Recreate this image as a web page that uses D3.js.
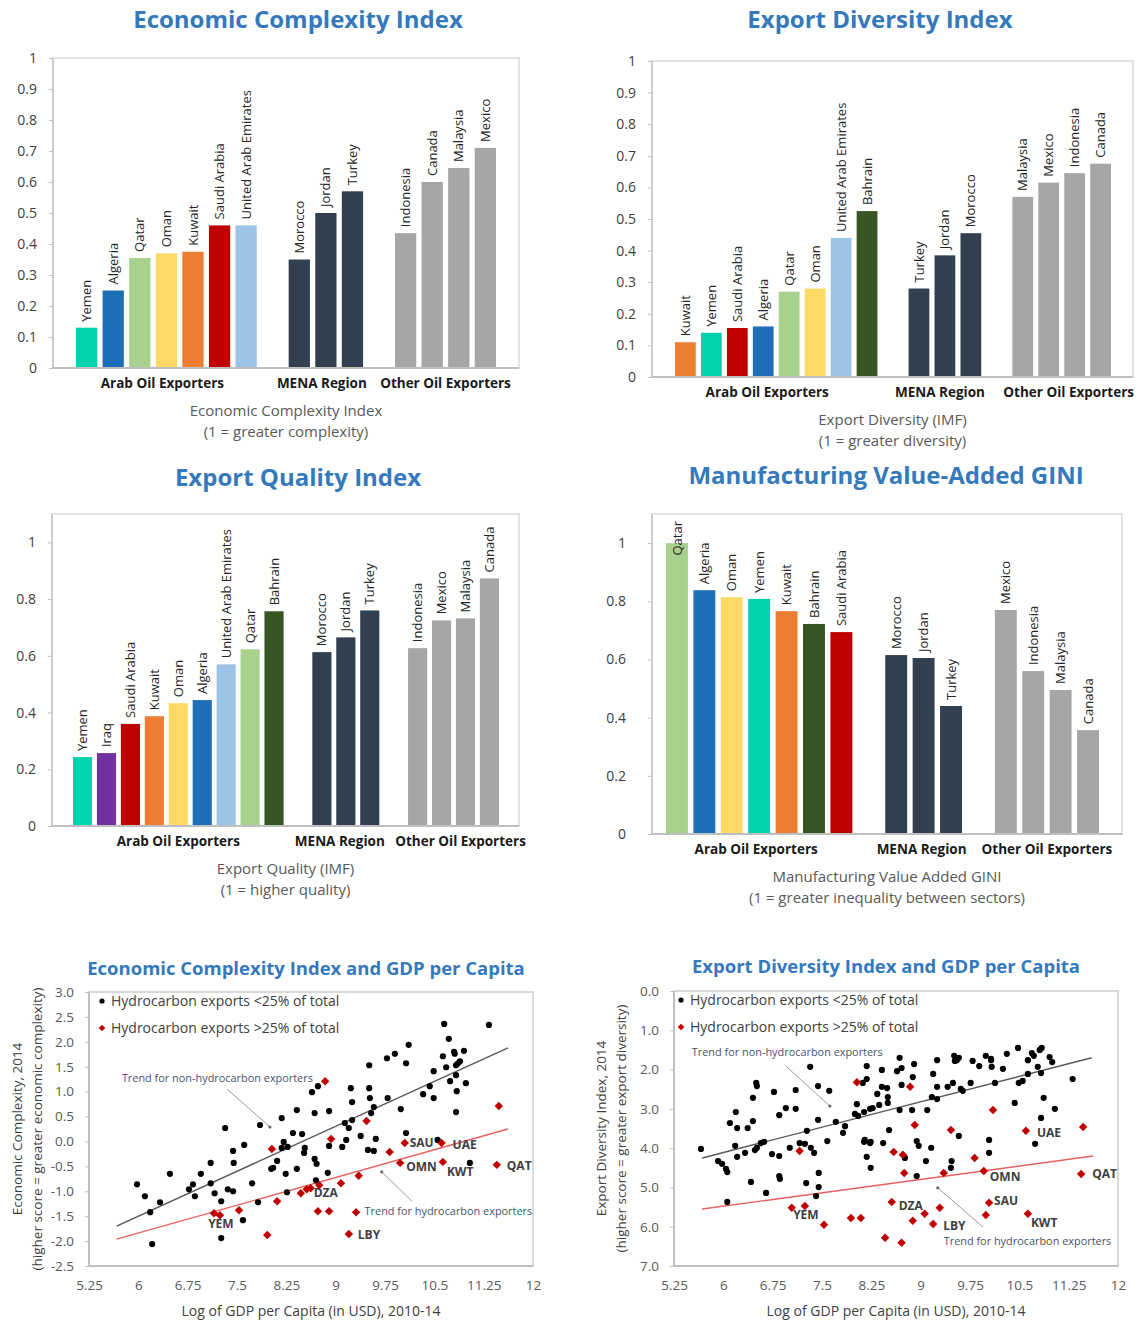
<!DOCTYPE html>
<html>
<head>
<meta charset="utf-8">
<script src="https://cdn.jsdelivr.net/npm/d3@7"></script>
<style>
  body { margin: 0; background: #fff; }
  svg { display: block; }
</style>
</head>
<body>
<svg id="chart" width="1138" height="1325"></svg>
<script>
// ---------- Data ----------
const groupNames = ["Arab Oil Exporters", "MENA Region", "Other Oil Exporters"];

// Economic Complexity Index (1 = greater complexity)
const eciCountries = ["Yemen", "Algeria", "Qatar", "Oman", "Kuwait", "Saudi Arabia", "United Arab Emirates",
  "Morocco", "Jordan", "Turkey", "Indonesia", "Canada", "Malaysia", "Mexico"];
const eciValues = [0.13, 0.25, 0.355, 0.37, 0.375, 0.46, 0.46, 0.35, 0.50, 0.57, 0.435, 0.60, 0.645, 0.71];
const eciGroups = [0, 0, 0, 0, 0, 0, 0, 1, 1, 1, 2, 2, 2, 2];

// Export Diversity (IMF) (1 = greater diversity)
const ediCountries = ["Kuwait", "Yemen", "Saudi Arabia", "Algeria", "Qatar", "Oman", "United Arab Emirates", "Bahrain",
  "Turkey", "Jordan", "Morocco", "Malaysia", "Mexico", "Indonesia", "Canada"];
const ediValues = [0.11, 0.14, 0.155, 0.16, 0.27, 0.28, 0.44, 0.525, 0.28, 0.385, 0.455, 0.57, 0.615, 0.645, 0.675];
const ediGroups = [0, 0, 0, 0, 0, 0, 0, 0, 1, 1, 1, 2, 2, 2, 2];

// Export Quality (IMF) (1 = higher quality)
const eqiCountries = ["Yemen", "Iraq", "Saudi Arabia", "Kuwait", "Oman", "Algeria", "United Arab Emirates", "Qatar", "Bahrain",
  "Morocco", "Jordan", "Turkey", "Indonesia", "Mexico", "Malaysia", "Canada"];
const eqiValues = [0.243, 0.257, 0.36, 0.387, 0.433, 0.444, 0.57, 0.623, 0.757, 0.613, 0.665, 0.76, 0.627, 0.725, 0.732, 0.873];
const eqiGroups = [0, 0, 0, 0, 0, 0, 0, 0, 0, 1, 1, 1, 2, 2, 2, 2];

// Manufacturing Value Added GINI (1 = greater inequality between sectors)
const mvaCountries = ["Qatar", "Algeria", "Oman", "Yemen", "Kuwait", "Bahrain", "Saudi Arabia",
  "Morocco", "Jordan", "Turkey", "Mexico", "Indonesia", "Malaysia", "Canada"];
const mvaValues = [1.0, 0.838, 0.814, 0.808, 0.766, 0.722, 0.694, 0.615, 0.605, 0.44, 0.77, 0.56, 0.495, 0.357];
const mvaGroups = [0, 0, 0, 0, 0, 0, 0, 1, 1, 1, 2, 2, 2, 2];

// Economic Complexity vs log GDP per capita: [logGDP, ECI]
const eciGdpLow = [
  [7.32, 0.27], [7.44, -0.19], [7.61, -0.07], [7.85, 0.33], [8.18, 0.47], [8.41, 0.63], [8.35, 0.17], [8.49, 0.15],
  [8.21, -0.01], [8.27, -0.11], [8.18, -0.13], [8.53, -0.13], [8.52, -0.23],
  [10.65, 2.36], [11.33, 2.34], [10.72, 2.06], [10.11, 1.94], [9.90, 1.76], [9.78, 1.67], [9.51, 1.53], [10.07, 1.57],
  [10.63, 1.71], [10.80, 1.80], [10.81, 1.76], [10.95, 1.82], [10.68, 1.49], [10.83, 1.53], [10.86, 1.57], [10.89, 1.61],
  [10.49, 1.41], [10.83, 1.33], [10.74, 1.21], [10.98, 1.17], [10.43, 1.11], [10.33, 0.95], [10.49, 0.87], [10.84, 1.01],
  [10.83, 0.59],
  [8.64, 0.99], [8.73, 1.11], [9.23, 1.07], [9.51, 1.07], [9.25, 0.79], [9.52, 0.87], [9.79, 0.87], [9.58, 0.69],
  [9.54, 0.57], [9.99, 0.65], [8.68, 0.57], [8.90, 0.61], [9.14, 0.37], [9.20, 0.27], [9.25, 0.43], [9.16, 0.03],
  [9.10, -0.11], [9.38, 0.11], [9.61, 0.05], [10.07, 0.17], [8.90, -0.09], [9.49, -0.17], [9.58, -0.19], [10.55, 0.03],
  [5.98, -0.86], [6.10, -1.10], [6.33, -1.22], [6.18, -1.42], [6.21, -2.06], [6.48, -0.65], [6.77, -0.96], [6.83, -0.86],
  [6.86, -1.10], [6.95, -0.65], [7.10, -0.43], [7.10, -0.84], [7.16, -1.04], [7.26, -1.20], [7.26, -1.94], [7.36, -0.96],
  [7.44, -1.00], [7.45, -0.43], [7.59, -1.58], [7.73, -0.84], [7.82, -1.22], [8.02, -0.55], [8.05, -0.53], [8.11, -0.39],
  [8.24, -0.65], [8.26, -1.02], [8.41, -0.55], [8.68, -0.35], [8.71, -0.45], [8.88, -0.63], [8.70, -0.78], [11.04, -0.43]
];
const eciGdpHigh = [
  [8.03, -0.15, ""], [8.84, 1.21, ""], [9.47, 0.41, ""], [8.93, 0.05, ""], [9.82, -0.21, ""], [10.05, -0.03, "SAU"],
  [10.61, -0.03, "UAE"], [11.48, 0.71, ""], [7.15, -1.44, ""], [7.24, -1.48, "YEM"], [7.53, -1.38, ""], [7.96, -1.88, ""],
  [8.11, -1.20, ""], [8.47, -1.04, ""], [8.56, -0.96, ""], [8.62, -0.94, "DZA"], [8.75, -0.88, ""], [9.08, -0.84, ""],
  [9.35, -0.69, ""], [9.98, -0.43, "OMN"], [10.63, -0.41, "KWT"], [11.45, -0.47, "QAT"], [8.73, -1.40, ""],
  [8.90, -1.40, ""], [9.31, -1.42, ""], [9.20, -1.86, "LBY"]
];
const eciTrendLow = [[5.67, -1.70], [11.62, 1.88]];
const eciTrendHigh = [[5.67, -1.96], [11.62, 0.25]];

// Export Diversity vs log GDP per capita: [logGDP, EDI] (lower score = greater diversity)
const ediGdpLow = [
  [5.66, 4.02], [5.92, 4.33], [5.98, 4.40], [6.04, 4.53], [6.06, 4.61], [6.21, 4.22], [6.18, 3.94], [6.33, 4.12],
  [6.48, 4.05], [6.51, 3.99], [6.57, 3.87], [6.62, 3.84], [6.42, 4.86], [6.06, 5.37], [6.65, 5.14], [6.74, 4.15],
  [6.85, 4.20], [6.85, 4.71], [6.86, 4.78], [7.01, 3.99], [7.16, 3.87], [7.24, 3.89], [7.33, 3.99], [7.38, 4.12],
  [7.26, 4.89], [7.45, 4.63], [7.45, 4.99], [7.41, 5.22], [7.58, 3.82], [8.18, 4.22], [8.24, 4.50], [8.14, 3.84],
  [8.23, 3.87], [8.43, 3.87],
  [7.32, 1.93], [6.50, 2.34], [6.51, 2.42], [6.77, 2.57], [7.10, 2.52], [7.44, 2.42], [7.61, 2.54], [6.45, 2.72],
  [6.19, 3.08], [6.85, 3.16], [6.95, 2.98], [7.10, 3.00], [6.10, 3.36], [6.21, 3.49], [6.45, 3.31], [6.37, 3.49],
  [7.44, 3.28], [7.27, 3.56], [7.71, 3.33], [7.82, 3.61], [7.85, 3.44],
  [8.18, 1.91], [8.41, 2.01], [8.64, 2.04], [8.71, 1.96], [8.68, 1.70], [8.90, 1.86], [8.12, 2.34], [8.18, 2.24],
  [8.41, 2.44], [8.49, 2.47], [8.34, 2.62], [8.71, 2.39], [8.88, 2.19], [9.19, 2.11], [9.25, 1.76], [9.51, 1.65],
  [9.55, 1.76], [9.52, 1.78], [9.58, 1.70], [9.79, 1.78], [9.89, 1.91], [9.99, 1.65], [10.07, 1.76], [10.08, 1.93],
  [9.49, 2.34], [9.41, 2.44], [9.25, 2.44], [9.76, 2.34], [9.61, 2.49], [9.64, 2.54], [10.13, 2.34], [9.17, 2.70],
  [9.25, 2.75], [8.03, 2.88], [8.14, 3.08], [8.23, 3.00], [8.27, 2.98], [8.37, 2.90], [8.50, 2.70], [8.50, 2.85],
  [8.68, 3.03], [8.87, 3.03], [9.10, 3.03], [8.00, 3.13], [8.05, 3.18], [8.15, 3.79], [8.24, 3.84], [8.52, 3.54],
  [8.76, 4.25], [8.94, 3.82], [8.97, 3.94], [9.16, 3.99], [9.58, 3.69], [10.04, 3.79], [10.04, 4.12], [9.47, 4.33],
  [9.08, 4.33], [8.94, 4.71], [9.46, 4.50],
  [10.48, 1.45], [10.69, 1.58], [10.72, 1.65], [10.81, 1.50], [10.84, 1.45], [10.96, 1.68], [11.00, 1.81], [10.63, 1.76],
  [10.78, 1.93], [10.83, 2.09], [10.63, 2.11], [10.31, 1.60], [10.25, 1.98], [10.07, 1.73], [10.49, 2.34], [10.55, 2.29],
  [11.31, 2.24], [10.43, 2.85], [10.87, 2.72], [11.04, 3.00], [10.83, 3.23], [10.74, 3.89]
];
const ediGdpHigh = [
  [7.16, 4.07, ""], [8.03, 2.32, ""], [8.84, 2.44, ""], [8.91, 3.41, ""], [8.59, 4.10, ""], [8.73, 4.17, ""],
  [9.46, 3.54, ""], [9.82, 4.25, ""], [8.75, 4.63, ""], [9.35, 4.63, ""], [9.96, 4.58, "OMN"], [10.10, 3.03, ""],
  [10.60, 3.56, "UAE"], [11.47, 3.46, ""], [11.44, 4.66, "QAT"], [8.56, 5.37, "DZA"], [9.06, 5.67, ""], [8.88, 5.85, ""],
  [9.19, 5.93, "LBY"], [9.29, 5.52, ""], [10.04, 5.39, "SAU"], [9.99, 5.70, ""], [10.63, 5.67, "KWT"], [8.46, 6.28, ""],
  [8.71, 6.41, ""], [7.04, 5.52, ""], [7.24, 5.47, "YEM"], [7.53, 5.95, ""], [7.94, 5.78, ""], [8.09, 5.78, ""]
];
const ediTrendLow = [[5.68, 4.25], [11.60, 1.70]];
const ediTrendHigh = [[5.68, 5.55], [11.62, 4.20]];

const gdpTicks = [5.25, 6, 6.75, 7.5, 8.25, 9, 9.75, 10.5, 11.25, 12];

// ---------- Styling ----------
const FONT = "'Open Sans', 'Noto Sans', sans-serif";
const TITLE_COLOR = "#3579bd";
const countryColors = {
  "Yemen": "#00d2b0", "Algeria": "#1f6fb8", "Qatar": "#a9d18e", "Oman": "#ffd966",
  "Kuwait": "#ed7d31", "Saudi Arabia": "#c00000", "United Arab Emirates": "#9dc3e6",
  "Bahrain": "#375623", "Iraq": "#7030a0"
};
const groupColors = [null, "#323f4f", "#a6a6a6"];

const svg = d3.select("#chart").attr("font-family", FONT);

function styleAxis(ax, size, color) {
  ax.attr("font-family", FONT).attr("font-size", size);
  ax.select(".domain").remove();
  ax.selectAll(".tick line").attr("stroke", "#bfbfbf");
  ax.selectAll(".tick text").attr("fill", color);
}

// ---------- Bar panels ----------
function drawBarPanel(p) {
  const g = svg.append("g");
  const f = p.frame;

  // slots: group members with a blank slot between groups
  const slots = [];
  groupNames.forEach((gn, gi) => {
    if (gi > 0) slots.push("gap" + gi);
    p.countries.forEach((c, i) => { if (p.groups[i] === gi) slots.push(c); });
  });
  const x = d3.scaleBand().domain(slots).range(p.barRange).paddingInner(0.2).paddingOuter(0);
  const y = d3.scaleLinear().domain([0, p.ymax]).range([f.y1, f.y0]);

  g.append("text").attr("x", p.titleX).attr("y", p.titleY).attr("text-anchor", "middle")
    .attr("font-size", 24).attr("font-weight", 700).attr("fill", TITLE_COLOR).text(p.title);

  g.append("rect").attr("x", f.x0).attr("y", f.y0).attr("width", f.x1 - f.x0).attr("height", f.y1 - f.y0)
    .attr("fill", "none").attr("stroke", "#d9d9d9").attr("stroke-width", 1.5);

  const ax = g.append("g").attr("transform", `translate(${f.x0},0)`)
    .call(d3.axisLeft(y).tickValues(p.ticks).tickSize(4).tickPadding(p.tickPad).tickFormat(d3.format("~g")));
  styleAxis(ax, 14, "#404040");
  g.append("line").attr("x1", f.x0).attr("x2", f.x0).attr("y1", f.y0).attr("y2", f.y1)
    .attr("stroke", "#bfbfbf").attr("stroke-width", 1.2);

  const data = p.countries.map((c, i) => ({ c, v: p.values[i], gi: p.groups[i] }));
  g.selectAll("rect.bar").data(data).join("rect").attr("class", "bar")
    .attr("x", d => x(d.c)).attr("y", d => y(d.v))
    .attr("width", x.bandwidth()).attr("height", d => y(0) - y(d.v))
    .attr("fill", d => d.gi === 0 ? countryColors[d.c] : groupColors[d.gi]);

  g.append("line").attr("x1", f.x0).attr("x2", f.x1).attr("y1", f.y1).attr("y2", f.y1)
    .attr("stroke", "#bfbfbf").attr("stroke-width", 2);

  g.selectAll("text.lab").data(data).join("text").attr("class", "lab")
    .attr("font-size", 13).attr("fill", "#262626").attr("dy", "0.35em").text(d => d.c)
    .each(function (d) {
      const len = this.getComputedTextLength();
      const ys = Math.max(y(d.v) - 6, f.y0 + len + 7);
      d3.select(this).attr("transform", `translate(${x(d.c) + x.bandwidth() / 2},${ys}) rotate(-90)`);
    });

  groupNames.forEach((gn, gi) => {
    const members = p.countries.filter((c, i) => p.groups[i] === gi);
    const x0 = x(members[0]), x1 = x(members[members.length - 1]) + x.bandwidth();
    g.append("text").attr("x", (x0 + x1) / 2 + p.groupDx[gi]).attr("y", f.y1 + 20).attr("text-anchor", "middle")
      .attr("font-size", 13.5).attr("font-weight", 700).attr("fill", "#1a1a1a").text(gn);
  });

  const cx = (f.x0 + f.x1) / 2;
  p.caption.forEach((line, i) => {
    g.append("text").attr("x", cx).attr("y", f.y1 + 48 + i * 21).attr("text-anchor", "middle")
      .attr("font-size", 15).attr("fill", "#595959").text(line);
  });
}

drawBarPanel({
  title: "Economic Complexity Index", titleX: 298, titleY: 28,
  countries: eciCountries, values: eciValues, groups: eciGroups,
  frame: { x0: 53, x1: 519, y0: 58, y1: 368 }, barRange: [76, 496],
  ymax: 1, ticks: d3.range(0, 11).map(i => i / 10), tickPad: 12, groupDx: [-4, -4, 0],
  caption: ["Economic Complexity Index", "(1 = greater complexity)"]
});
drawBarPanel({
  title: "Export Diversity Index", titleX: 880, titleY: 28,
  countries: ediCountries, values: ediValues, groups: ediGroups,
  frame: { x0: 652, x1: 1133, y0: 61, y1: 377 }, barRange: [675, 1111],
  ymax: 1, ticks: d3.range(0, 11).map(i => i / 10), tickPad: 12, groupDx: [-9, -5, 7],
  caption: ["Export Diversity (IMF)", "(1 = greater diversity)"]
});
drawBarPanel({
  title: "Export Quality Index", titleX: 298, titleY: 486,
  countries: eqiCountries, values: eqiValues, groups: eqiGroups,
  frame: { x0: 52, x1: 519, y0: 514, y1: 826 }, barRange: [73, 499],
  ymax: 1.1, ticks: d3.range(0, 6).map(i => i / 5), tickPad: 12, groupDx: [0, -6, 7],
  caption: ["Export Quality (IMF)", "(1 = higher quality)"]
});
drawBarPanel({
  title: "Manufacturing Value-Added GINI", titleX: 886, titleY: 484,
  countries: mvaCountries, values: mvaValues, groups: mvaGroups,
  frame: { x0: 652, x1: 1122, y0: 514, y1: 834 }, barRange: [666, 1099],
  ymax: 1.1, ticks: d3.range(0, 6).map(i => i / 5), tickPad: 22, groupDx: [-3, -2, 0],
  caption: ["Manufacturing Value Added GINI", "(1 = greater inequality between sectors)"]
});

// ---------- Scatter panels ----------
function drawScatter(s) {
  const g = svg.append("g");
  const f = s.frame;
  const x = d3.scaleLinear().domain([5.25, 12]).range([f.x0, f.x1]);
  const y = d3.scaleLinear().domain(s.ydomain).range([f.y1, f.y0]);

  g.append("text").attr("x", s.titleX).attr("y", s.titleY).attr("text-anchor", "middle")
    .attr("font-size", 18.5).attr("font-weight", 700).attr("fill", TITLE_COLOR).text(s.title);

  g.append("rect").attr("x", f.x0).attr("y", f.y0).attr("width", f.x1 - f.x0).attr("height", f.y1 - f.y0)
    .attr("fill", "none").attr("stroke", "#d9d9d9").attr("stroke-width", 2);
  g.append("path").attr("d", `M${f.x0},${f.y0}V${f.y1}H${f.x1}`)
    .attr("fill", "none").attr("stroke", "#bfbfbf").attr("stroke-width", 2);

  const ay = g.append("g").attr("transform", `translate(${f.x0},0)`)
    .call(d3.axisLeft(y).tickValues(s.yticks).tickSize(4).tickPadding(11).tickFormat(d => d.toFixed(1)));
  styleAxis(ay, 13.5, "#595959");
  const axx = g.append("g").attr("transform", `translate(0,${f.y1})`)
    .call(d3.axisBottom(x).tickValues(gdpTicks).tickSize(0).tickPadding(14).tickFormat(d => String(d)));
  styleAxis(axx, 13.5, "#595959");

  g.append("text").attr("x", (f.x0 + f.x1) / 2).attr("y", f.y1 + 50).attr("text-anchor", "middle")
    .attr("font-size", 14).attr("fill", "#404040").text("Log of GDP per Capita (in USD), 2010-14");
  s.ytitle.forEach((line, i) => {
    g.append("text").attr("transform", `translate(${s.ytitleX + i * 20},${(f.y0 + f.y1) / 2}) rotate(-90)`)
      .attr("text-anchor", "middle").attr("dy", "0.35em")
      .attr("font-size", 13.5).attr("fill", "#404040").text(line);
  });

  // trend lines
  const line = d3.line().x(d => x(d[0])).y(d => y(d[1]));
  g.append("path").attr("d", line(s.trendLow)).attr("fill", "none").attr("stroke", "#595959").attr("stroke-width", 1.4);
  g.append("path").attr("d", line(s.trendHigh)).attr("fill", "none").attr("stroke", "#e8605f").attr("stroke-width", 1.4);

  // points
  g.selectAll("circle.low").data(s.low).join("circle").attr("class", "low")
    .attr("cx", d => x(d[0])).attr("cy", d => y(d[1])).attr("r", 3.1).attr("fill", "#000");
  const diamond = d3.symbol(d3.symbolSquare, 36);
  g.selectAll("path.high").data(s.high).join("path").attr("class", "high")
    .attr("d", diamond).attr("fill", "#c00000")
    .attr("transform", d => `translate(${x(d[0])},${y(d[1])}) rotate(45)`);

  // country codes
  g.selectAll("text.code").data(s.high.filter(d => d[2])).join("text").attr("class", "code")
    .attr("x", d => x(d[0]) + s.codeOffsets[d[2]][0]).attr("y", d => y(d[1]) + s.codeOffsets[d[2]][1])
    .attr("text-anchor", d => s.codeOffsets[d[2]][2] || "start").attr("dy", "0.35em")
    .attr("font-size", 12).attr("font-weight", 700).attr("fill", "#404040").text(d => d[2]);

  // legend
  const lx = f.x0 + s.legendDx;
  g.append("circle").attr("cx", lx).attr("cy", f.y0 + 9).attr("r", 2.6).attr("fill", "#000");
  g.append("path").attr("d", d3.symbol(d3.symbolSquare, 22)).attr("fill", "#c00000")
    .attr("transform", `translate(${lx},${f.y0 + 36}) rotate(45)`);
  g.append("text").attr("x", lx + 9).attr("y", f.y0 + 9).attr("dy", "0.35em").attr("font-size", 14)
    .attr("fill", "#404040").text("Hydrocarbon exports <25% of total");
  g.append("text").attr("x", lx + 9).attr("y", f.y0 + 36).attr("dy", "0.35em").attr("font-size", 14)
    .attr("fill", "#404040").text("Hydrocarbon exports >25% of total");

  // trend annotations with leader lines
  s.notes.forEach(n => {
    g.append("text").attr("x", x(n.at[0])).attr("y", y(n.at[1])).attr("dy", "0.35em")
      .attr("font-size", 10.9).attr("fill", "#44546a").text(n.text);
    g.append("line").attr("x1", x(n.from[0])).attr("y1", y(n.from[1])).attr("x2", x(n.to[0])).attr("y2", y(n.to[1]))
      .attr("stroke", "#808080").attr("stroke-width", 0.8);
    g.append("circle").attr("cx", x(n.to[0])).attr("cy", y(n.to[1])).attr("r", 1.6).attr("fill", "#666");
  });
}

drawScatter({
  title: "Economic Complexity Index and GDP per Capita", titleX: 306, titleY: 975,
  frame: { x0: 89, x1: 533, y0: 992, y1: 1266 },
  ydomain: [-2.5, 3], yticks: d3.range(0, 12).map(i => 3 - i * 0.5),
  ytitle: ["Economic Complexity, 2014", "(higher score = greater economic complexity)"], ytitleX: 17,
  low: eciGdpLow, high: eciGdpHigh, trendLow: eciTrendLow, trendHigh: eciTrendHigh,
  legendDx: 13,
  codeOffsets: {
    SAU: [5, 0], UAE: [11, 2], OMN: [6, 4], KWT: [4, 10], QAT: [10, 1], DZA: [3, 5], YEM: [1, 9, "middle"], LBY: [9, 1]
  },
  notes: [
    { text: "Trend for non-hydrocarbon exporters", at: [5.75, 1.27], from: [7.35, 1.05], to: [8.00, 0.29] },
    { text: "Trend for hydrocarbon exporters", at: [9.44, -1.40], from: [10.16, -1.20], to: [9.70, -0.61] }
  ]
});

drawScatter({
  title: "Export Diversity Index and GDP per Capita", titleX: 886, titleY: 973,
  frame: { x0: 674, x1: 1118, y0: 991, y1: 1266 },
  ydomain: [7, 0], yticks: d3.range(0, 8),
  ytitle: ["Export Diversity Index, 2014", "(higher score = greater export diversity)"], ytitleX: 601,
  low: ediGdpLow, high: ediGdpHigh, trendLow: ediTrendLow, trendHigh: ediTrendHigh,
  legendDx: 7,
  codeOffsets: {
    UAE: [11, 2], QAT: [11, 0], OMN: [6, 6], SAU: [5, -2], KWT: [3, 9], DZA: [7, 4], LBY: [10, 2], YEM: [1, 9, "middle"]
  },
  notes: [
    { text: "Trend for non-hydrocarbon exporters", at: [5.52, 1.55], from: [6.95, 1.91], to: [7.62, 2.93] },
    { text: "Trend for hydrocarbon exporters", at: [9.35, 6.36], from: [9.95, 6.01], to: [9.26, 5.01] }
  ]
});
</script>
</body>
</html>
